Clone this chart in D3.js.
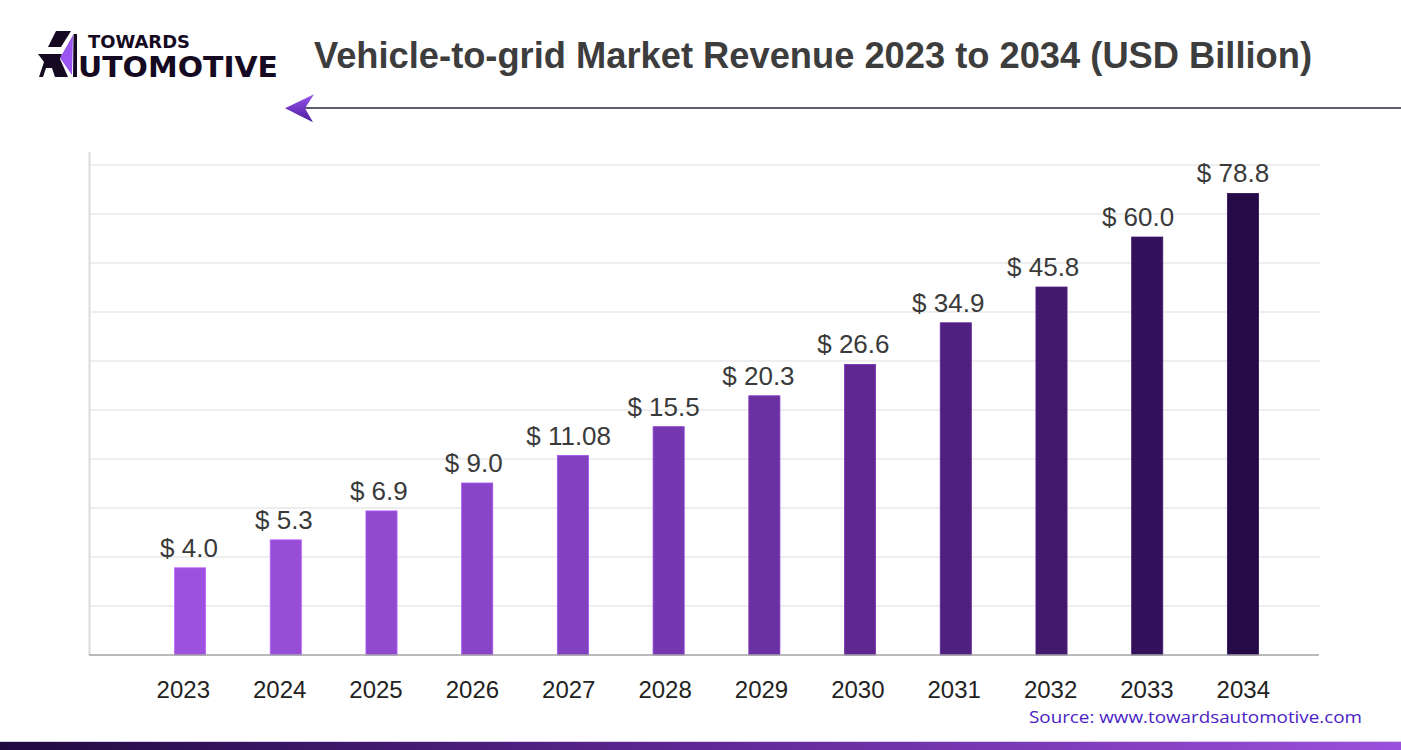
<!DOCTYPE html>
<html>
<head>
<meta charset="utf-8">
<script src="https://cdn.jsdelivr.net/npm/d3@7"></script>
<style>
  html, body { margin: 0; padding: 0; background: #fff; }
  svg { display: block; }
  .grid line { stroke: #e8e8e8; stroke-width: 1.5; }
  .value-label { font-family: "Liberation Sans", Arial, sans-serif; font-size: 26px; fill: #3a3a3a; }
  .year-label { font-family: "Liberation Sans", Arial, sans-serif; font-size: 24px; fill: #222; }
</style>
</head>
<body>
<svg id="chart"></svg>
<script>
// Dữ liệu biểu đồ
const years = ['2023', '2024', '2025', '2026', '2027', '2028', '2029', '2030', '2031', '2032', '2033', '2034'];
// Nhãn giá trị hiển thị trên cột
const valueLabels = ['4.0', '5.3', '6.9', '9.0', '11.08', '15.5', '20.3', '26.6', '34.9', '45.8', '60.0', '78.8'];
// Chiều cao cột như trong hình (đơn vị lưới, 0-100)
const barHeights = [17.8, 23.5, 29.4, 35.1, 40.7, 46.6, 52.9, 59.3, 67.8, 75.1, 85.3, 94.2];
const gridTicks = [0, 10, 20, 30, 40, 50, 60, 70, 80, 90, 100];

const width = 1401, height = 750;
const svg = d3.select('#chart')
    .attr('width', width)
    .attr('height', height)
    .attr('viewBox', `0 0 ${width} ${height}`);

const defs = svg.append('defs');

// Gradient cho thanh dưới cùng
const footGrad = defs.append('linearGradient').attr('id', 'footGrad');
footGrad.append('stop').attr('offset', '0%').attr('stop-color', '#1f0a40');
footGrad.append('stop').attr('offset', '50%').attr('stop-color', '#5f2795');
footGrad.append('stop').attr('offset', '100%').attr('stop-color', '#9c50dc');

// Gradient cho mũi tên
const arrowGrad = defs.append('linearGradient').attr('id', 'arrowGrad')
    .attr('x1', 0).attr('y1', 0).attr('x2', 0).attr('y2', 1);
arrowGrad.append('stop').attr('offset', '0%').attr('stop-color', '#9a55ee');
arrowGrad.append('stop').attr('offset', '100%').attr('stop-color', '#4a1c9c');

// Thang đo
const x = d3.scaleBand().domain(years).range([142.2, 1290.8]).paddingInner(0.675).paddingOuter(0.3375);
const xLabel = d3.scalePoint().domain(years).range([183.3, 1243.3]);
const xValue = d3.scalePoint().domain(years).range([189, 1233]);
const y = d3.scaleLinear().domain([0, 100]).range([655, 165]);
const color = d3.scaleLinear()
    .domain([0, 4, 7, 11])
    .range(['#9c52de', '#8241bf', '#5f2792', '#240b48']);

// Lưới ngang
svg.append('g').attr('class', 'grid')
    .selectAll('line')
    .data(gridTicks.slice(1))
    .enter().append('line')
    .attr('x1', 90).attr('x2', 1320)
    .attr('y1', d => y(d)).attr('y2', d => y(d));

// Trục dọc
svg.append('line')
    .attr('x1', 89.5).attr('x2', 89.5)
    .attr('y1', 152).attr('y2', 655)
    .attr('stroke', '#dcdcdc').attr('stroke-width', 2);

// Cột
svg.append('g').selectAll('rect')
    .data(years)
    .enter().append('rect')
    .attr('x', d => x(d))
    .attr('width', x.bandwidth())
    .attr('y', (d, i) => y(barHeights[i]))
    .attr('height', (d, i) => y(0) - y(barHeights[i]))
    .attr('fill', (d, i) => color(i))
    .attr('stroke', (d, i) => d3.color(color(i)).brighter(0.6))
    .attr('stroke-width', 0.8);

// Trục ngang
svg.append('line')
    .attr('x1', 89).attr('x2', 1319)
    .attr('y1', 655).attr('y2', 655)
    .attr('stroke', '#a3a3a3').attr('stroke-width', 1.5);

// Nhãn giá trị
svg.append('g').selectAll('text')
    .data(years)
    .enter().append('text')
    .attr('class', 'value-label')
    .attr('x', d => xValue(d))
    .attr('y', (d, i) => y(barHeights[i]) - 11)
    .attr('text-anchor', 'middle')
    .text((d, i) => `$ ${valueLabels[i]}`);

// Nhãn năm
svg.append('g').selectAll('text')
    .data(years)
    .enter().append('text')
    .attr('class', 'year-label')
    .attr('x', d => xLabel(d))
    .attr('y', 698)
    .attr('text-anchor', 'middle')
    .text(d => d);

// Tiêu đề
svg.append('text')
    .attr('x', 314).attr('y', 68)
    .attr('textLength', 998).attr('lengthAdjust', 'spacingAndGlyphs')
    .style('font-family', '"Liberation Sans Narrow", "Liberation Sans", Arial, sans-serif')
    .style('font-weight', 'bold')
    .style('font-size', '37px')
    .style('fill', '#3d3d3d')
    .text('Vehicle-to-grid Market Revenue 2023 to 2034 (USD Billion)');

// Đường kẻ với mũi tên
svg.append('line')
    .attr('x1', 304).attr('x2', 1401)
    .attr('y1', 108).attr('y2', 108)
    .attr('stroke', '#2a2540').attr('stroke-width', 1.6);
svg.append('path')
    .attr('d', 'M285,108.3 L314,94.3 L305,108.2 L313,122.3 Z')
    .attr('fill', 'url(#arrowGrad)');

// Logo
const logo = svg.append('g');
logo.append('path').attr('d', 'M56,31 L71,31 L61,47 L48,47 Z').attr('fill', '#150a22');
logo.append('path').attr('d', 'M38,54 L62,54 L60,59 L68,77 L55,77 L52,68 L46,68 L43,77 L39,77 L44,62 Z').attr('fill', '#150a22');
logo.append('path').attr('d', 'M73,35 L60,58 L72,75 Z').attr('fill', '#9b55f0');
logo.append('path').attr('d', 'M73.5,34 L77,34 L77,77 L73,77 Z').attr('fill', '#150a22');
logo.append('text')
    .attr('x', 88).attr('y', 48)
    .attr('textLength', 102).attr('lengthAdjust', 'spacingAndGlyphs')
    .style('font-family', '"DejaVu Sans", sans-serif')
    .style('font-weight', 'bold')
    .style('font-size', '18px')
    .style('fill', '#150a22')
    .text('TOWARDS');
logo.append('text')
    .attr('x', 78).attr('y', 77)
    .attr('textLength', 200).attr('lengthAdjust', 'spacingAndGlyphs')
    .style('font-family', '"DejaVu Sans", sans-serif')
    .style('font-weight', 'bold')
    .style('font-size', '29px')
    .style('fill', '#150a22')
    .text('UTOMOTIVE');

// Nguồn
svg.append('text')
    .attr('x', 1029).attr('y', 723)
    .attr('textLength', 333).attr('lengthAdjust', 'spacingAndGlyphs')
    .style('font-family', '"Open Sans", "Noto Sans", sans-serif')
    .style('font-size', '16px')
    .style('fill', '#4a22c4')
    .text('Source: www.towardsautomotive.com');

// Thanh dưới cùng
svg.append('rect')
    .attr('x', 0).attr('y', 742)
    .attr('width', width).attr('height', 8)
    .attr('fill', 'url(#footGrad)');
svg.append('line')
    .attr('x1', 0).attr('x2', width)
    .attr('y1', 741.5).attr('y2', 741.5)
    .attr('stroke', '#d8cce8').attr('stroke-width', 1);
</script>
</body>
</html>
